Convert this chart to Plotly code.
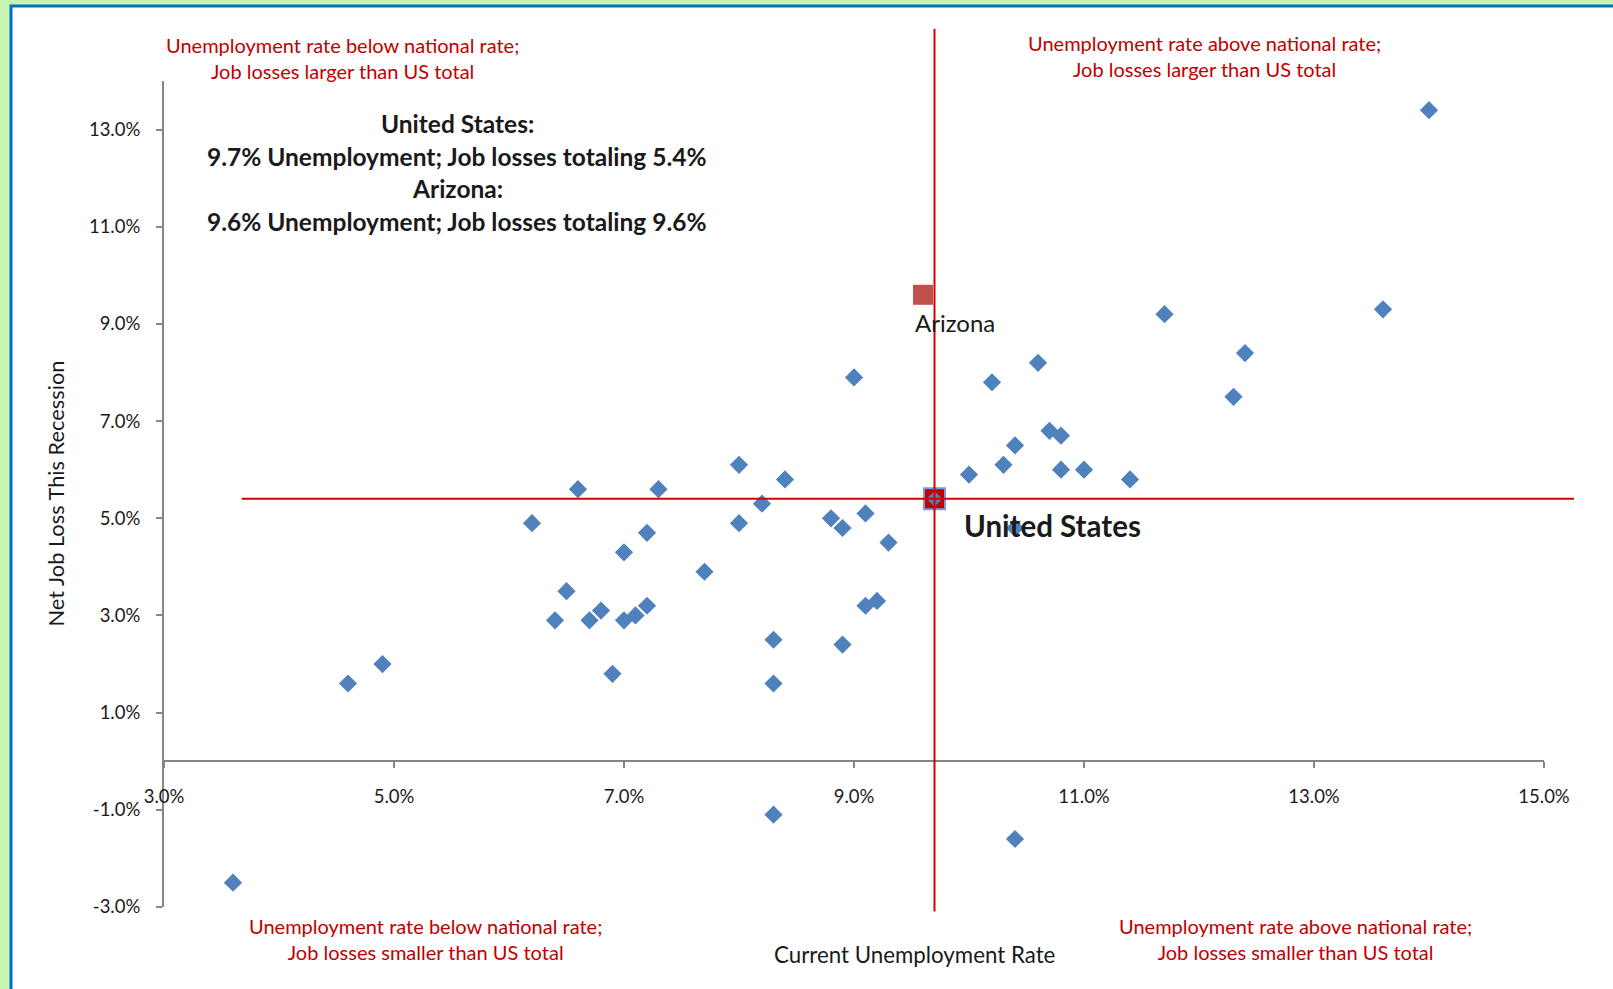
import plotly.graph_objects as go

# ---------------- data ----------------
unemp = [14.0, 13.6, 11.7, 12.4, 12.3, 10.6, 10.2, 9.0, 10.7, 10.8, 10.4, 10.3, 10.0,
         10.8, 11.0, 11.4, 10.4, 8.0, 8.4, 8.2, 7.3, 6.6, 6.2, 8.0, 7.2, 7.0, 8.8, 8.9,
         9.1, 9.3, 7.7, 6.5, 6.8, 6.4, 6.7, 7.0, 7.1, 7.2, 9.1, 9.2, 8.3, 8.9, 6.9, 8.3,
         4.9, 4.6, 8.3, 10.4, 3.6]
job_loss = [13.4, 9.3, 9.2, 8.4, 7.5, 8.2, 7.8, 7.9, 6.8, 6.7, 6.5, 6.1, 5.9,
            6.0, 6.0, 5.8, 4.8, 6.1, 5.8, 5.3, 5.6, 5.6, 4.9, 4.9, 4.7, 4.3, 5.0, 4.8,
            5.1, 4.5, 3.9, 3.5, 3.1, 2.9, 2.9, 2.9, 3.0, 3.2, 3.2, 3.3, 2.5, 2.4, 1.8, 1.6,
            2.0, 1.6, -1.1, -1.6, -2.5]

us_unemp = [9.7]
us_loss = [5.4]
az_unemp = [9.6]
az_loss = [9.6]

x_ticks = [3, 5, 7, 9, 11, 13, 15]
x_ticktext = ["3.0%", "5.0%", "7.0%", "9.0%", "11.0%", "13.0%", "15.0%"]
y_ticks = [-3, -1, 1, 3, 5, 7, 9, 11, 13]
y_ticktext = ["-3.0%", "-1.0%", "1.0%", "3.0%", "5.0%", "7.0%", "9.0%", "11.0%", "13.0%"]

x_range = [3, 15]
y_range = [-3, 14]

# ---------------- layout geometry ----------------
W, H = 1613, 989
L, R, T, B = 164, 69, 81, 82
PW, PH = W - L - R, H - T - B


def px(x):
    return (x - L) / PW


def py(y):
    return (H - B - y) / PH


FONT = "Lato"
RED = "#c00000"
LINE_RED = "#d40000"
BLUE = "#4f81bd"
GRAY = "#868686"
TXT = "#1a1a1a"

fig = go.Figure()

fig.add_trace(go.Scatter(
    x=unemp, y=job_loss, mode="markers",
    marker=dict(symbol="diamond", size=14, color=BLUE, line=dict(width=0)),
    showlegend=False, cliponaxis=False, hoverinfo="x+y"))

fig.add_trace(go.Scatter(
    x=us_unemp, y=us_loss, mode="markers",
    marker=dict(symbol="square", size=21, color="#c00000", line=dict(width=2, color="#6f9fdc")),
    showlegend=False, cliponaxis=False))

fig.add_trace(go.Scatter(
    x=us_unemp, y=us_loss, mode="markers",
    marker=dict(symbol="diamond", size=12, color=BLUE, line=dict(width=0)),
    showlegend=False, cliponaxis=False))

fig.add_trace(go.Scatter(
    x=az_unemp, y=az_loss, mode="markers",
    marker=dict(symbol="square", size=20, color="#c0504d", line=dict(width=0)),
    showlegend=False, cliponaxis=False))

shapes = [
    # outer frame
    dict(type="rect", xref="paper", yref="paper",
         x0=px(11), x1=px(1640), y0=py(1010), y1=py(6),
         fillcolor="white", line=dict(color="#0070c0", width=3), layer="below"),
    # national unemployment line
    dict(type="line", xref="x", yref="paper", x0=us_unemp[0], x1=us_unemp[0],
         y0=py(911.5), y1=py(29), line=dict(color=LINE_RED, width=2), layer="above"),
    # national job loss line
    dict(type="line", xref="paper", yref="y", x0=px(241.7), x1=px(1574),
         y0=us_loss[0], y1=us_loss[0], line=dict(color=LINE_RED, width=2), layer="above"),
]

annotations = []


def ann(text, x, y, size, color=TXT, bold=False, **kw):
    t = f"<b>{text}</b>" if bold else text
    d = dict(text=t, xref="paper", yref="paper", x=px(x), y=py(y), showarrow=False,
             xanchor="center", yanchor="middle", align="center",
             font=dict(family=FONT, size=size, color=color))
    d.update(kw)
    annotations.append(d)


ann("Unemployment rate below national rate;<br>Job losses larger than US total", 342.6, 58, 20, RED)
ann("Unemployment rate above national rate;<br>Job losses larger than US total", 1204.6, 56, 20, RED)
ann("Unemployment rate below national rate;<br>Job losses smaller than US total", 425, 939, 20, RED)
ann("Unemployment rate above national rate;<br>Job losses smaller than US total", 1295, 939, 20, RED)

ann("United States:", 457, 123.4, 24.5, bold=True)
ann("9.7% Unemployment; Job losses totaling 5.4%", 457, 156.4, 24.5, bold=True)
ann("Arizona:", 457, 188.3, 24.5, bold=True)
ann("9.6% Unemployment; Job losses totaling 9.6%", 457, 221.2, 24.5, bold=True)

ann("Current Unemployment Rate", 914.5, 954.6, 22.3)
ann("Net Job Loss This Recession", 54.5, 494, 21.8, textangle=-90)

annotations.append(dict(text="Arizona", x=az_unemp[0], y=az_loss[0], xref="x", yref="y",
                        showarrow=False, xanchor="left", yanchor="middle",
                        xshift=-10, yshift=-28, font=dict(family=FONT, size=24, color=TXT)))
annotations.append(dict(text="<b>United States</b>", x=us_unemp[0], y=us_loss[0], xref="x", yref="y",
                        showarrow=False, xanchor="left", yanchor="middle",
                        xshift=27.5, yshift=-27, font=dict(family=FONT, size=29.5, color=TXT)))

fig.update_layout(
    width=W, height=H,
    margin=dict(l=L, r=R, t=T, b=B, pad=0),
    paper_bgcolor="#c6f4b2", plot_bgcolor="rgba(0,0,0,0)",
    shapes=shapes, annotations=annotations,
    font=dict(family=FONT, size=18.5, color=TXT),
    xaxis=dict(range=x_range, tickvals=x_ticks, ticktext=x_ticktext,
               showgrid=False, zeroline=False, showline=True, linecolor=GRAY, linewidth=2,
               ticks="outside", ticklen=6, tickwidth=1.5, tickcolor=GRAY,
               anchor="free", position=(0 - y_range[0]) / (y_range[1] - y_range[0]),
               ticklabelstandoff=13, tickfont=dict(family=FONT, size=18.5, color=TXT)),
    yaxis=dict(range=y_range, tickvals=y_ticks, ticktext=y_ticktext,
               showgrid=False, zeroline=False, showline=True, linecolor=GRAY, linewidth=2,
               ticks="outside", ticklen=6, tickwidth=1.5, tickcolor=GRAY,
               ticklabelstandoff=12, tickfont=dict(family=FONT, size=18.5, color=TXT)),
)

fig.write_html("out.html", config={"displayModeBar": False},
               post_script="document.body.style.margin='0px';")
